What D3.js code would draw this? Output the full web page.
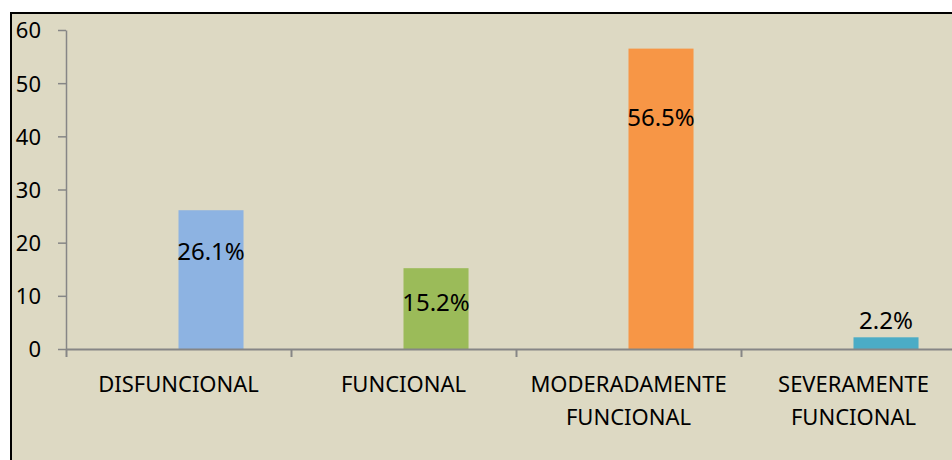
<!DOCTYPE html>
<html>
<head>
<meta charset="utf-8">
<script src="https://cdn.jsdelivr.net/npm/d3@7"></script>
<style>
	body { margin: 0; background: #ffffff; }
	svg { display: block; }
	text { font-family: "Noto Sans", "DejaVu Sans", sans-serif; fill: #000000; }
</style>
</head>
<body>
<script>
// Data
var categories = [["DISFUNCIONAL"], ["FUNCIONAL"], ["MODERADAMENTE", "FUNCIONAL"], ["SEVERAMENTE", "FUNCIONAL"]];
var values = [26.1, 15.2, 56.5, 2.2];
var valueLabels = ["26.1%", "15.2%", "56.5%", "2.2%"];
var yTicks = [0, 10, 20, 30, 40, 50, 60];

// Styling / layout
var colors = ["#8db3e2", "#9bbb59", "#f79646", "#4bacc6"];
var labelDy = [50, 43, 77, -8];

var w = 952;
var h = 460;
var plotLeft = 66, plotRight = 966, plotTop = 30, plotBottom = 349;

var svg = d3.select("body").
append("svg").
attr("width", w).
attr("height", h);

// chart area with frame
svg.append("rect").
attr("x", 11).
attr("y", 13).
attr("width", 1000).
attr("height", 500).
attr("fill", "#ddd9c3").
attr("stroke", "#000000").
attr("stroke-width", 2);

var keys = categories.map(function (d) {return d.join(" ");});

var xScale = d3.scaleBand().
domain(keys).
range([plotLeft, plotRight]).
padding(0);

var edgeScale = d3.scaleLinear().
domain([0, categories.length]).
range([plotLeft, plotRight]);

var yScale = d3.scaleLinear().
domain([0, 60]).
range([plotBottom, plotTop]);

var barW = xScale.bandwidth() * 0.289;

// bars
svg.selectAll("rect.bar").
data(values).
enter().
append("rect").
attr("class", "bar").
attr("x", function (d, i) {return xScale(keys[i]) + xScale.bandwidth() / 2;}).
attr("y", function (d) {return yScale(d);}).
attr("width", barW).
attr("height", function (d) {return yScale(0) - yScale(d);}).
attr("fill", function (d, i) {return colors[i];});

// y axis
var yAxis = d3.axisLeft(yScale).
tickValues(yTicks).
tickSizeInner(8).
tickSizeOuter(0).
tickPadding(17);

var gy = svg.append("g").
attr("transform", "translate(" + plotLeft + ",0)").
call(yAxis);
gy.select(".domain").attr("stroke", "#868686").attr("stroke-width", 1.5);
gy.selectAll(".tick line").attr("stroke", "#868686").attr("stroke-width", 1.5);
gy.selectAll(".tick text").
attr("fill", "#000000").
style("font-size", "22px").
attr("dy", "0.36em");

// x axis with category dividers
var xAxis = d3.axisBottom(edgeScale).
tickValues(d3.range(categories.length + 1)).
tickSizeInner(8).
tickSizeOuter(0).
tickFormat("");

var gx = svg.append("g").
attr("transform", "translate(0," + plotBottom + ")").
call(xAxis);
gx.select(".domain").attr("stroke", "#868686").attr("stroke-width", 2);
gx.selectAll(".tick line").attr("stroke", "#868686").attr("stroke-width", 2);

// category labels
var catText = svg.selectAll("text.cat").
data(categories).
enter().
append("text").
attr("class", "cat").
attr("text-anchor", "middle").
style("font-size", "22px").
attr("x", function (d, i) {return xScale(keys[i]) + xScale.bandwidth() / 2;}).
attr("y", 392);

catText.selectAll("tspan").
data(function (d) {return d;}).
enter().
append("tspan").
attr("x", function () {return d3.select(this.parentNode).attr("x");}).
attr("dy", function (d, i) {return i === 0 ? 0 : 33;}).
text(function (d) {return d;});

// value labels
svg.selectAll("text.val").
data(values).
enter().
append("text").
attr("class", "val").
attr("text-anchor", "middle").
style("font-size", "24px").
attr("x", function (d, i) {return xScale(keys[i]) + xScale.bandwidth() / 2 + barW / 2;}).
attr("y", function (d, i) {return yScale(d) + labelDy[i];}).
text(function (d, i) {return valueLabels[i];});
</script>
</body>
</html>
